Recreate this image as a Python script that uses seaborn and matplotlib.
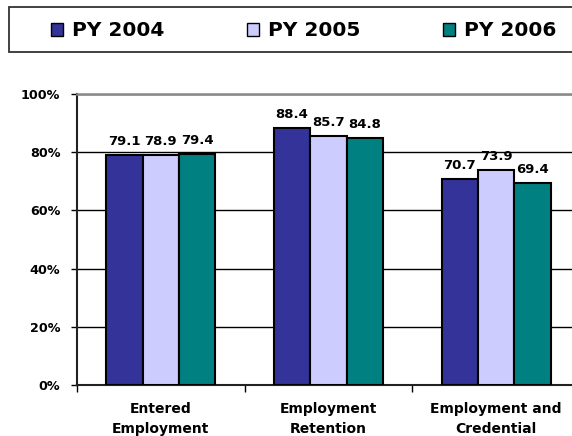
import matplotlib
matplotlib.use("Agg")
import matplotlib.pyplot as plt
from matplotlib.patches import Patch, Rectangle
import seaborn as sns
import pandas as pd

categories = ["Entered\nEmployment", "Employment\nRetention", "Employment and\nCredential"]
years = ["PY 2004", "PY 2005", "PY 2006"]
py2004 = [79.1, 88.4, 70.7]
py2005 = [78.9, 85.7, 73.9]
py2006 = [79.4, 84.8, 69.4]
yticks = [0, 20, 40, 60, 80, 100]
colors = ["#333399", "#CCCCFF", "#008080"]

rows = []
for yr, vals in zip(years, [py2004, py2005, py2006]):
    for c, v in zip(categories, vals):
        rows.append({"category": c, "year": yr, "value": v})
df = pd.DataFrame(rows)

sns.set_style("white")
plt.rcParams["font.family"] = ["DejaVu Sans"]
plt.rcParams["font.weight"] = "bold"
plt.rcParams["text.color"] = "black"
plt.rcParams["xtick.color"] = "black"
plt.rcParams["ytick.color"] = "black"
plt.rcParams["xtick.labelcolor"] = "black"
plt.rcParams["ytick.labelcolor"] = "black"

W, H = 572, 436
fig = plt.figure(figsize=(W / 100, H / 100), dpi=100)
ax = fig.add_axes([77 / W, (H - 385) / H, 503 / W, 291 / H])

sns.barplot(data=df, x="category", y="value", hue="year", order=categories,
            hue_order=years, palette=colors, width=0.65, edgecolor="black",
            linewidth=1.5, saturation=1, legend=False, ax=ax, zorder=3)

ax.set_xlim(-0.5, 2.5)
ax.set_ylim(0, 100)
ax.set_yticks(yticks)
ax.set_yticklabels([f"{t}%" for t in yticks], fontsize=9.2, fontweight="bold", color="black")
ax.yaxis.grid(True, color="black", linewidth=1.0, zorder=0)
ax.set_axisbelow(True)
ax.tick_params(axis="y", direction="out", length=4, width=1, pad=8, left=True, colors="black")
ax.set_xticks(range(len(categories)))
ax.set_xticklabels(categories, fontsize=10, fontweight="bold", linespacing=1.6, color="black")
ax.tick_params(axis="x", which="major", length=0, pad=12)
ax.set_xticks([-0.5, 0.5, 1.5], minor=True)
ax.tick_params(axis="x", which="minor", direction="out", length=5, width=1, bottom=True, colors="black")
ax.set_xlabel("")
ax.set_ylabel("")

for s in ["left", "bottom"]:
    ax.spines[s].set_color("#222222")
    ax.spines[s].set_linewidth(1.5)
ax.spines["top"].set_color("#888888")
ax.spines["top"].set_linewidth(1.8)
ax.spines["right"].set_visible(False)

for cont in ax.containers:
    ax.bar_label(cont, fmt="%.1f", padding=5, fontsize=9.5, fontweight="bold", color="black")

# legend
fig.patches.append(Rectangle((9 / W, 1 - 52 / H), 600 / W, 45 / H, transform=fig.transFigure,
                             facecolor="white", edgecolor="#333333", linewidth=1.3))
handles = [Patch(facecolor=c, edgecolor="black", linewidth=1.0, label=y) for c, y in zip(colors, years)]
leg = fig.legend(handles=handles, loc="center left", bbox_to_anchor=(41 / W, 1 - 31 / H), ncol=3,
                 frameon=False, borderpad=0, prop={"weight": "bold", "size": 14.5},
                 handlelength=0.6, handleheight=0.6, handletextpad=0.45, columnspacing=4.1)
for t in leg.get_texts():
    t.set_color("black")

fig.savefig("out.png", dpi=100)
